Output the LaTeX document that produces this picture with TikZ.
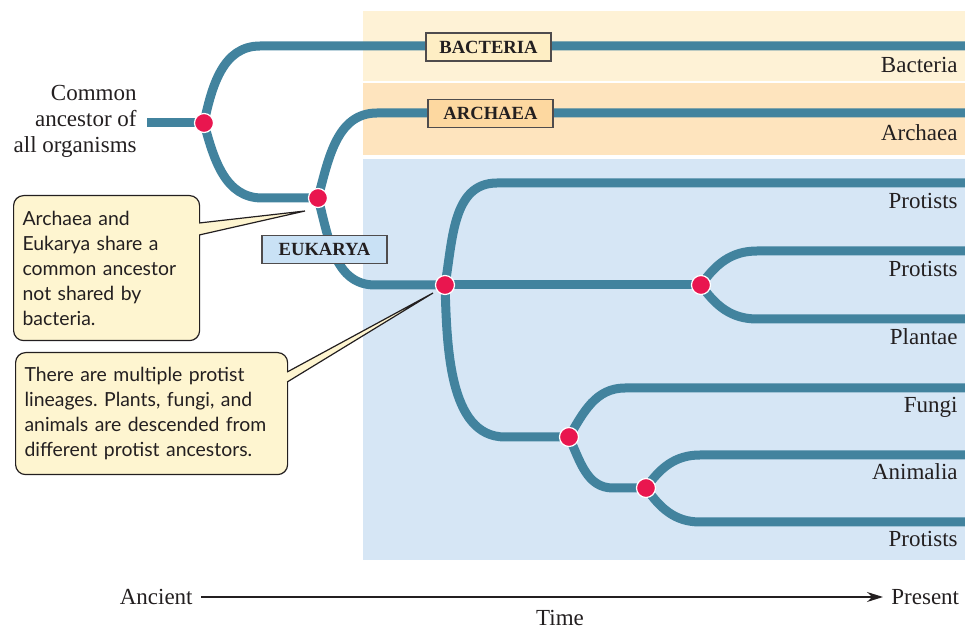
\documentclass[tikz,border=0pt]{standalone}
\usepackage{fontspec}
\setmainfont{Liberation Serif}
\newfontfamily\calloutfont{Lato}
\usetikzlibrary{arrows.meta, positioning, calc}
\definecolor{branch}{RGB}{66,131,158}
\definecolor{nodered}{RGB}{233,22,79}
\definecolor{bacband}{RGB}{254,242,214}
\definecolor{arcband}{RGB}{254,228,190}
\definecolor{eukband}{RGB}{214,230,245}
\definecolor{bacbox}{RGB}{254,238,196}
\definecolor{arcbox}{RGB}{253,216,160}
\definecolor{eukbox}{RGB}{201,225,245}
\definecolor{notefill}{RGB}{254,245,208}
\definecolor{ink}{RGB}{35,31,32}

\begin{document}
\begin{tikzpicture}[x=0.5pt, y=0.5pt,
  lineage/.style={line width=4.5pt, draw=branch},
  split/.style={circle, fill=nodered, draw=white, line width=0.6pt, minimum size=9.5pt, inner sep=0pt},
  domainbox/.style={draw=ink!80, line width=0.6pt, minimum width=62.5pt, minimum height=14pt, inner sep=0pt, font=\fontsize{9.3}{10}\selectfont\bfseries, text=ink},
  taxon/.style={anchor=base east, inner sep=2pt, font=\fontsize{11.5}{13}\selectfont, text=ink},
  axislabel/.style={inner sep=4pt, font=\fontsize{11.5}{13}\selectfont, text=ink},
  note/.style={draw=ink, line width=0.6pt, fill=notefill, rounded corners=5pt, align=left, anchor=north west, inner xsep=4.5pt, font=\calloutfont\fontsize{9.7}{12.5}\selectfont\frenchspacing, text=ink},
  pointer/.style={draw=ink, line width=0.6pt, fill=notefill, line join=miter}
]
  \useasboundingbox (0,0) rectangle (965,-630);

  % domain bands
  \fill[bacband] (363,-11) rectangle (965,-81);
  \fill[arcband] (363,-83) rectangle (965,-155);
  \fill[eukband] (363,-159) rectangle (965,-560);

  % branch points
  \coordinate (start) at (147,-123);
  \coordinate (root) at (204,-123);
  \coordinate (nA) at (318,-198);
  \coordinate (nB) at (445,-285);
  \coordinate (nC) at (701,-285);
  \coordinate (nD) at (569,-437);
  \coordinate (nE) at (646,-488);

  % tips
  \coordinate (tBac) at (965,-46);
  \coordinate (tArc) at (965,-113);
  \coordinate (tPro1) at (965,-183);
  \coordinate (tPro2) at (965,-251);
  \coordinate (tPla) at (965,-319);
  \coordinate (tFun) at (965,-388);
  \coordinate (tAni) at (965,-455);
  \coordinate (tPro3) at (965,-522);

  % lineages
  \draw[lineage] (start) -- (root);
  \draw[lineage] (root) to[out=78,in=180] (260,-46) -- (tBac);
  \draw[lineage] (root) to[out=-75,in=180] (262,-198) -- (nA);
  \draw[lineage] (nA) to[out=75,in=180] (377,-113) -- (tArc);
  \draw[lineage] (nA) to[out=-75,in=180] (375,-285) -- (nB);
  \draw[lineage] (nB) to[out=80,in=180] (497,-183) -- (tPro1);
  \draw[lineage] (nB) -- (nC);
  \draw[lineage] (nC) to[out=55,in=180] (757,-251) -- (tPro2);
  \draw[lineage] (nC) to[out=-55,in=180] (757,-319) -- (tPla);
  \draw[lineage] (nB) to[out=-88,in=180,looseness=0.9] (505,-437) -- (nD);
  \draw[lineage] (nD) to[out=60,in=180] (625,-388) -- (tFun);
  \draw[lineage] (nD) to[out=-65,in=180] (613,-488) -- (nE);
  \draw[lineage] (nE) to[out=55,in=180] (700,-455) -- (tAni);
  \draw[lineage] (nE) to[out=-55,in=180] (700,-522) -- (tPro3);

  % ancestors
  \foreach \n in {root, nA, nB, nC, nD, nE}
    \node[split] (dot-\n) at (\n) {};

  % domain labels
  \node[domainbox, fill=bacbox] (bacteria) at (488.5,-47) {BACTERIA};
  \node[domainbox, fill=arcbox] (archaea) at (490.5,-113.5) {ARCHAEA};
  \node[domainbox, fill=eukbox] (eukarya) at (324.5,-249.5) {EUKARYA};

  % tip labels
  \node[taxon] (lBac) at (962,-73) {Bacteria};
  \node[taxon] (lArc) at (962,-141) {Archaea};
  \node[taxon] (lPro1) at (962,-209) {Protists};
  \node[taxon] (lPro2) at (962,-277) {Protists};
  \node[taxon] (lPla) at (962,-345) {Plantae};
  \node[taxon] (lFun) at (962,-413) {Fungi};
  \node[taxon] (lAni) at (962,-480) {Animalia};
  \node[taxon] (lPro3) at (962,-547) {Protists};

  \node[taxon, anchor=east, align=right] (common) at (141,-121) {Common\\ancestor of\\all organisms};

  % callouts
  \node[note, text width=84pt, minimum height=72.5pt] (noteA) at (13,-195)
    {Archaea and\\Eukarya share a\\common ancestor\\not shared by\\bacteria.};
  \coordinate (tipA) at (305,-211);
  \filldraw[pointer] ($(noteA.north east)+(-1,-28)$) -- (tipA) -- ($(noteA.north east)+(-1,-40)$);

  \node[note, text width=127pt, minimum height=61pt] (noteB) at (15,-352)
    {There are multiple protist\\lineages. Plants, fungi, and\\animals are descended from\\different protist ancestors.};
  \coordinate (tipB) at (433,-293);
  \filldraw[pointer] ($(noteB.north east)+(-1,-20)$) -- (tipB) -- ($(noteB.north east)+(-1,-30)$);

  % time axis
  \node[axislabel, anchor=east] (ancient) at (201,-597) {Ancient};
  \node[axislabel, anchor=west] (present) at (883,-597) {Present};
  \draw[ink, line width=0.6pt, -{Stealth[length=8pt,width=5pt]}] (ancient) -- (present);
  \node[axislabel] (time) at (560,-618) {Time};
\end{tikzpicture}
\end{document}
